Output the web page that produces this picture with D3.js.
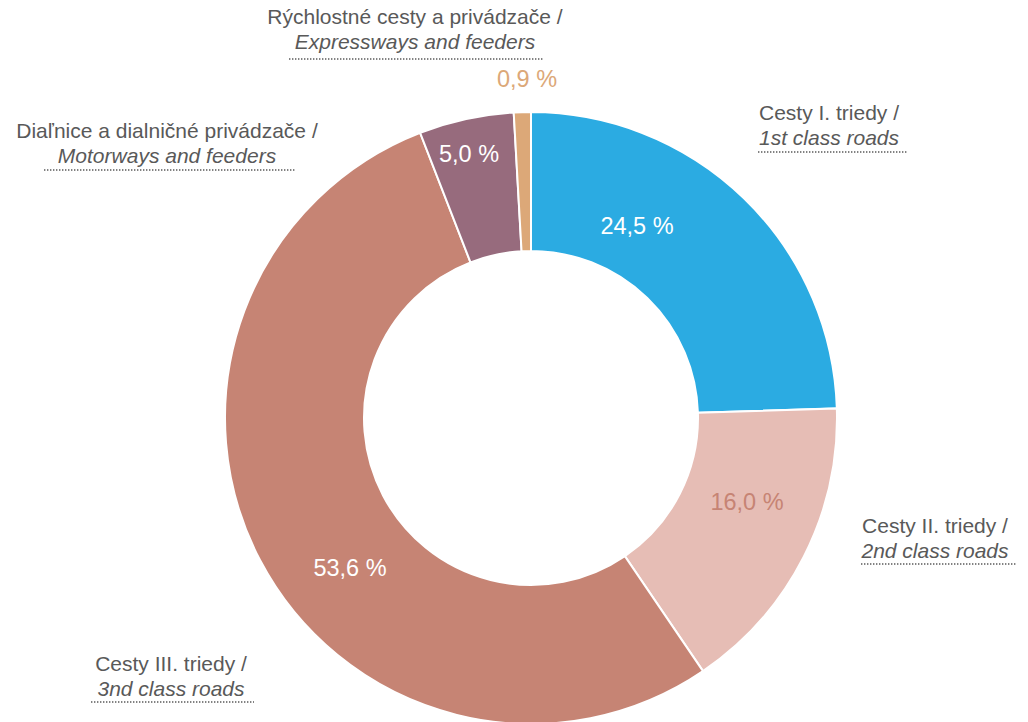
<!DOCTYPE html>
<html>
<head>
<meta charset="utf-8">
<script src="https://cdn.jsdelivr.net/npm/d3@7"></script>
<style>
  body { margin: 0; background: #fff; }
  text { font-family: "Liberation Sans", Arial, sans-serif; }
</style>
</head>
<body>
<div id="chart"></div>
<script>
// data
var categoriesSk = ["Cesty I. triedy /", "Cesty II. triedy /", "Cesty III. triedy /",
                    "Diaľnice a dialničné privádzače /", "Rýchlostné cesty a privádzače /"];
var categoriesEn = ["1st class roads", "2nd class roads", "3nd class roads",
                    "Motorways and feeders", "Expressways and feeders"];
var shares = [24.5, 16.0, 53.6, 5.0, 0.9];

var colors = ["#2BABE2", "#E6BDB5", "#C68474", "#976B7D", "#DCA878"];
var valueColors = ["#fff", "#C68474", "#fff", "#fff", "#DCA878"];

// layout (label positions relative to canvas / donut centre)
var valuePos = [[106, -192], [216, 84], [-181, 150], [-62, -264], [-4, -339]];
var catPos = [
  {x: 829, y: 120, u: [758, 908], uy: 152},
  {x: 935, y: 533, u: [861, 1017], uy: 564},
  {x: 171, y: 671, u: [91, 254], uy: 702},
  {x: 167, y: 138, u: [44, 296], uy: 170},
  {x: 415, y: 24, u: [289, 544], uy: 59}
];

var width = 1028, height = 722;
var cx = 531, cy = 418, rOut = 306, rIn = 167;

var svg = d3.select("#chart").append("svg")
  .attr("width", width)
  .attr("height", height);

var pie = d3.pie().sort(null).value(function(d){ return d; });
var arc = d3.arc().innerRadius(rIn).outerRadius(rOut);

var g = svg.append("g").attr("transform", "translate(" + cx + "," + cy + ")");

g.selectAll("path")
  .data(pie(shares))
  .enter().append("path")
  .attr("d", arc)
  .attr("fill", function(d, i){ return colors[i]; })
  .attr("stroke", "#fff")
  .attr("stroke-width", 2);

g.selectAll("text.val")
  .data(shares)
  .enter().append("text")
  .attr("class", "val")
  .attr("x", function(d, i){ return valuePos[i][0]; })
  .attr("y", function(d, i){ return valuePos[i][1] + 8; })
  .attr("text-anchor", "middle")
  .style("font-size", "23.5px")
  .style("fill", function(d, i){ return valueColors[i]; })
  .text(function(d){ return d.toFixed(1).replace(".", ",") + " %"; });

var labels = svg.selectAll("g.cat")
  .data(categoriesSk)
  .enter().append("g")
  .attr("class", "cat");

labels.append("text")
  .attr("x", function(d, i){ return catPos[i].x; })
  .attr("y", function(d, i){ return catPos[i].y; })
  .attr("text-anchor", "middle")
  .style("font-size", "21px")
  .style("fill", "#595959")
  .text(function(d){ return d; });

labels.append("text")
  .attr("x", function(d, i){ return catPos[i].x; })
  .attr("y", function(d, i){ return catPos[i].y + 25; })
  .attr("text-anchor", "middle")
  .style("font-size", "21px")
  .style("font-style", "italic")
  .style("fill", "#595959")
  .text(function(d, i){ return categoriesEn[i]; });

labels.append("line")
  .attr("x1", function(d, i){ return catPos[i].u[0]; })
  .attr("x2", function(d, i){ return catPos[i].u[1]; })
  .attr("y1", function(d, i){ return catPos[i].uy; })
  .attr("y2", function(d, i){ return catPos[i].uy; })
  .attr("stroke", "#595959")
  .attr("stroke-width", 1.6)
  .attr("stroke-dasharray", "1.4,1.6");
</script>
</body>
</html>
